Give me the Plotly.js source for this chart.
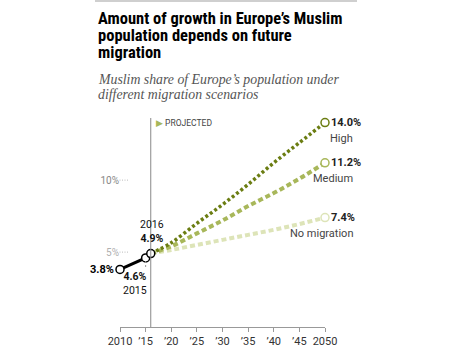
<!DOCTYPE html>
<html>
<head>
<meta charset="utf-8">
<script src="https://cdn.plot.ly/plotly-3.0.1.min.js"></script>
<style>html,body{margin:0;padding:0;background:#fff;}#chart{width:472px;height:354px;}</style>
</head>
<body>
<div id="chart"></div>
<script>
// ---- data ----
var histYears = [2010, 2015, 2016];
var histVals = [3.8, 4.6, 4.9];
var projYears = [2016, 2020, 2025, 2030, 2035, 2040, 2045, 2050];
var highVals = [4.9, 5.65, 7.0, 8.3, 9.7, 11.2, 12.6, 14.0];
var mediumVals = [4.9, 5.4, 6.3, 7.2, 8.2, 9.1, 10.1, 11.2];
var noMigVals = [4.9, 5.15, 5.5, 5.85, 6.2, 6.55, 6.95, 7.4];
var scenarioNames = ["High", "Medium", "No migration"];
var xTickVals = [2010, 2015, 2020, 2025, 2030, 2035, 2040, 2045, 2050];
var xTickText = ["2010", "\u201915", "\u201920", "\u201925", "\u201930", "\u201935", "\u201940", "\u201945", "2050"];
var yTickVals = [5, 10];
var yTickText = ["<span style='color:#b0b0b0'>5%</span>", "10%"];
var titleLines = ["Amount of growth in Europe\u2019s Muslim", "population depends on future", "migration"];
var subtitleLines = ["Muslim share of Europe\u2019s population under", "different migration scenarios"];
var projectedYear = 2016;

// ---- layout geometry ----
var W = 472, H = 354;
var plotL = 120, plotR = 325, plotT = 110, plotB = 327;
function px(x) { return (x - plotL) / (plotR - plotL); }
function py(y) { return (plotB - y) / (plotB - plotT); }

var cHigh = "#6b7d12", cMed = "#a8b75a", cNone = "#dde4b8";
var sans = "Roboto, 'Liberation Sans', sans-serif";
var last = projYears.length - 1;

function proj(vals, color, dash, width) {
  return {x: projYears, y: vals, mode: "lines", line: {color: color, width: width, dash: dash, shape: "spline"},
          hoverinfo: "skip", cliponaxis: false};
}
function endMarker(vals, color) {
  return {x: [projYears[last]], y: [vals[last]], mode: "markers",
          marker: {symbol: "circle", size: 8, color: "#fff", line: {color: color, width: 1.5}},
          hoverinfo: "skip", cliponaxis: false};
}

var traces = [
  proj(noMigVals, cNone, "5px,3px", 4),
  proj(mediumVals, cMed, "5px,3px", 4),
  proj(highVals, cHigh, "3px,2.5px", 3.5),
  endMarker(noMigVals, cNone),
  endMarker(mediumVals, cMed),
  endMarker(highVals, cHigh),
  {x: histYears, y: histVals, mode: "lines+markers", line: {color: "#000", width: 3},
   marker: {symbol: "circle", size: 8, color: "#fff", line: {color: "#000", width: 1.5}},
   hoverinfo: "skip", cliponaxis: false}
];

var ann = [];
titleLines.forEach(function (t, i) {
  ann.push({text: "<b>" + t + "</b>", xref: "paper", yref: "paper", x: px(96), y: py(19 + i * 17),
            xanchor: "left", yanchor: "middle", showarrow: false,
            font: {family: "'Liberation Sans Narrow', 'Roboto Condensed', Roboto, sans-serif", size: 16.5, color: "#000"}});
});
subtitleLines.forEach(function (t, i) {
  ann.push({text: "<i>" + t + "</i>", xref: "paper", yref: "paper", x: px(96), y: py(79 + i * 15),
            xanchor: "left", yanchor: "middle", showarrow: false,
            font: {family: "'Liberation Serif', serif", size: 13.8, color: "#555"}});
});
ann.push({text: "<span style='color:" + cMed + "'>\u25B6</span> PROJECTED", xref: "x", yref: "paper",
          x: projectedYear, y: py(123), xanchor: "left", yanchor: "middle", xshift: 3, showarrow: false,
          font: {family: sans, size: 8.5, color: "#444"}});
// historical labels
ann.push({text: "<b>" + histVals[0].toFixed(1) + "%</b>", x: histYears[0], y: histVals[0], xref: "x", yref: "y",
          xanchor: "right", yanchor: "middle", xshift: -4, showarrow: false, font: {family: sans, size: 11, color: "#000"}});
ann.push({text: "<b>" + histVals[1].toFixed(1) + "%</b><br>" + histYears[1], x: histYears[1], y: histVals[1], xref: "x", yref: "y",
          xanchor: "right", yanchor: "middle", align: "center", xshift: 3, yshift: -26, showarrow: false,
          font: {family: sans, size: 10.5, color: "#111"}});
ann.push({text: histYears[2] + "<br><b>" + histVals[2].toFixed(1) + "%</b>", x: histYears[2], y: histVals[2], xref: "x", yref: "y",
          xanchor: "center", yanchor: "middle", align: "center", xshift: 1, yshift: 22, showarrow: false,
          font: {family: sans, size: 10.5, color: "#111"}});
// scenario end labels
[highVals, mediumVals, noMigVals].forEach(function (vals, i) {
  ann.push({text: "<b>" + vals[last].toFixed(1) + "%</b>", x: projYears[last], y: vals[last], xref: "x", yref: "y",
            xanchor: "left", yanchor: "middle", xshift: 4, showarrow: false, font: {family: sans, size: 11, color: "#222"}});
  ann.push({text: scenarioNames[i], x: projYears[last], y: vals[last], xref: "x", yref: "y",
            xanchor: "right", yanchor: "middle", xshift: 30, yshift: -16, showarrow: false, font: {family: sans, size: 11, color: "#444"}});
});

var shapes = [
  {type: "line", xref: "paper", yref: "paper", x0: px(95), x1: px(357), y0: py(1), y1: py(1), line: {color: "#cfcfcf", width: 2}},
  {type: "line", xref: "x", yref: "paper", x0: projectedYear, x1: projectedYear, y0: 0, y1: py(118), line: {color: "#888", width: 1}},
  {type: "line", xref: "x", yref: "paper", x0: histYears[1], x1: histYears[1], y0: py(261), y1: py(268), line: {color: "#999", width: 1, dash: "2px,2px"}}
];
yTickVals.forEach(function (v) {
  shapes.push({type: "line", xref: "paper", yref: "y", x0: px(117), x1: px(128), y0: v, y1: v,
               line: {color: "#bbb", width: 1, dash: "1px,1.5px"}});
});

var layout = {
  width: W, height: H,
  margin: {l: plotL, r: W - plotR, t: plotT, b: H - plotB, pad: 0},
  paper_bgcolor: "#fff", plot_bgcolor: "#fff",
  showlegend: false,
  xaxis: {range: [2010, 2050], tickvals: xTickVals, ticktext: xTickText, ticks: "outside", ticklen: 4, tickcolor: "#999",
          showline: true, linecolor: "#999", linewidth: 1, showgrid: false, zeroline: false,
          tickfont: {family: sans, size: 11, color: "#333"}, fixedrange: true},
  yaxis: {range: [-0.2, (plotB - plotT) / 14.4 - 0.2], tickvals: yTickVals, ticktext: yTickText, ticks: "",
          showline: false, showgrid: false, zeroline: false, tickfont: {family: sans, size: 10, color: "#888"}, fixedrange: true},
  annotations: ann,
  shapes: shapes
};

Plotly.newPlot("chart", traces, layout, {displayModeBar: false, staticPlot: true});
</script>
</body>
</html>
